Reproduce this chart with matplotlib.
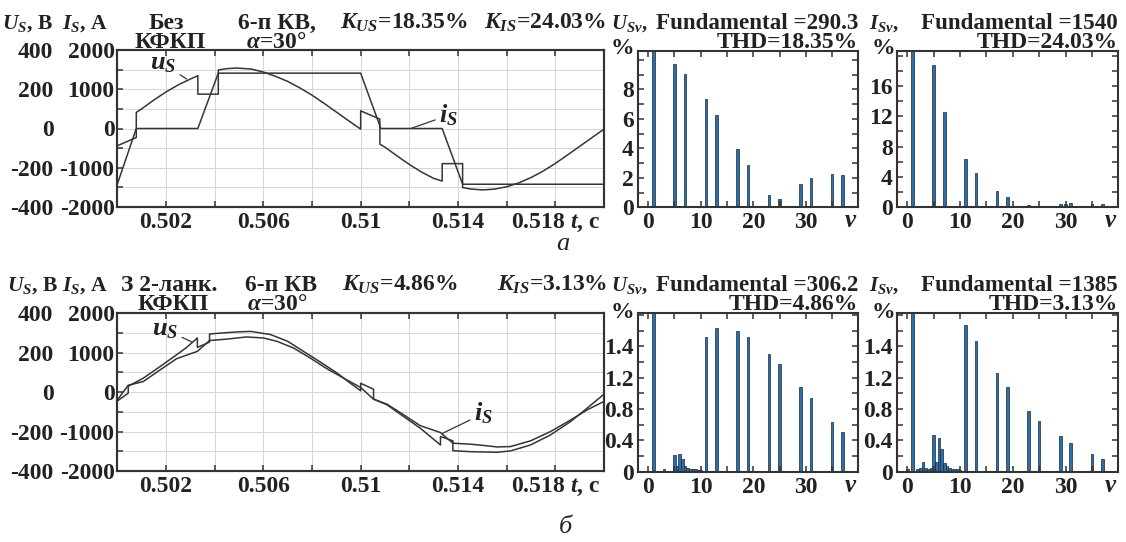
import matplotlib
matplotlib.use('Agg')
import matplotlib.pyplot as plt
from matplotlib.ticker import MultipleLocator

plt.rcParams.update({
    'font.family': ['Liberation Serif', 'DejaVu Serif'],
    'font.weight': 'bold',
    'font.size': 17,
    'mathtext.fontset': 'custom',
    'mathtext.rm': 'Liberation Serif:bold',
    'mathtext.it': 'Liberation Serif:italic:bold',
    'mathtext.bf': 'Liberation Serif:bold',
    'mathtext.default': 'it',
    'axes.linewidth': 1.5,
    'axes.edgecolor': '#333333',
    'xtick.color': '#333333',
    'ytick.color': '#333333',
    'xtick.labelcolor': '#222222',
    'ytick.labelcolor': '#222222',
    'text.color': '#222222',
})

# ---------------- data: time-domain waveforms ----------------
# (a) without filter: supply voltage u_s (V) and current i_s (A)
top_t_u = [0.5000, 0.50078, 0.50078, 0.5010, 0.5015, 0.5020, 0.5025, 0.5030, 0.50331, 0.50331,
           0.50415, 0.50415, 0.5045, 0.5049, 0.5055, 0.5060, 0.5065, 0.5070, 0.5075, 0.5080,
           0.5085, 0.5090, 0.5095, 0.5100, 0.5100, 0.51079, 0.51079, 0.5110, 0.5115, 0.5120,
           0.5125, 0.5130, 0.51335, 0.51335, 0.51419, 0.51419, 0.5145, 0.5150, 0.5155, 0.5160,
           0.5165, 0.5170, 0.5175, 0.5180, 0.5185, 0.5190, 0.5195, 0.5200]
top_u = [-88, -46, 82, 100, 145, 186, 222, 252, 269, 175,
         175, 298, 305, 308, 303, 288, 266, 240, 207, 170,
         128, 84, 40, -3, 90, 48, -80, -95, -140, -183,
         -222, -254, -268, -179, -179, -301, -308, -313, -309, -297,
         -277, -250, -217, -178, -135, -91, -47, -3]
top_t_i = [0.5000, 0.50078, 0.50331, 0.50415, 0.5100, 0.51083, 0.51335, 0.51419, 0.5200]
top_i = [-1420, 0, 0, 1410, 1410, 0, 0, -1420, -1420]

# (b) with 2-stage filter
bot_t_u = [0.5000, 0.50045, 0.50045, 0.50107, 0.50176, 0.50244, 0.50285, 0.50329, 0.50329, 0.50379,
           0.50379, 0.5045, 0.5050, 0.5055, 0.5063, 0.5070, 0.50765, 0.50834, 0.50903, 0.50957,
           0.5100, 0.5100, 0.51053, 0.51053, 0.51108, 0.51177, 0.51245, 0.51328, 0.51328, 0.51379,
           0.51379, 0.51451, 0.51561, 0.51616, 0.51698, 0.5178, 0.51863, 0.51931, 0.5200]
bot_u = [-45, -5, 30, 71, 130, 190, 227, 275, 227, 254,
         295, 302, 306, 308, 292, 258, 207, 153, 97, 46,
         7, 45, 15, -35, -64, -124, -183, -268, -225, -247,
         -297, -302, -305, -298, -268, -217, -149, -81, -10]
bot_t_i = [0.5000, 0.50045, 0.50107, 0.50176, 0.50244, 0.50329, 0.50379, 0.5045, 0.5053, 0.5060,
           0.50656, 0.50724, 0.50793, 0.50861, 0.5093, 0.5100, 0.51053, 0.51108, 0.51177, 0.51245,
           0.51328, 0.51379, 0.51451, 0.5151, 0.51561, 0.51616, 0.51698, 0.5178, 0.51863, 0.51931,
           0.5200]
bot_i = [-200, 175, 270, 565, 850, 1035, 1310, 1345, 1400, 1375,
         1290, 1120, 865, 595, 355, 120, -180, -305, -575, -850,
         -1025, -1295, -1320, -1355, -1390, -1380, -1235, -1000, -705, -450,
         -235]

# ---------------- data: harmonic spectra (% of fundamental) ----------------
uspec_a_nu = [1, 5, 7, 11, 13, 17, 19, 23, 25, 29, 31, 35, 37]
uspec_a = [100, 9.7, 9.04, 7.32, 6.24, 3.93, 2.85, 0.85, 0.54, 1.6, 1.97, 2.26, 2.21]
ispec_a_nu = [1, 5, 7, 11, 13, 17, 19, 23, 25, 29, 30, 31, 35, 37]
ispec_a = [100, 18.77, 12.53, 6.41, 4.56, 2.19, 1.4, 0.3, 0.15, 0.44, 0.4, 0.53, 0.44, 0.44]
uspec_b_nu = [1, 3, 4, 4.5, 5, 5.5, 6, 6.5, 7, 7.5, 8, 8.5, 9, 9.5, 10,
              11, 13, 17, 19, 23, 25, 29, 31, 35, 37]
uspec_b = [100, 0.03, 0.015, 0.015, 0.21, 0.07, 0.225, 0.16, 0.07, 0.05, 0.04, 0.03, 0.03, 0.02, 0.02,
           1.716, 1.83, 1.79, 1.716, 1.5, 1.37, 1.08, 0.935, 0.64, 0.5]
ispec_b_nu = [0, 1, 2, 2.5, 3, 3.5, 4, 4.5, 5, 5.5, 6, 6.5, 7, 7.5, 8, 8.5, 9, 9.5, 10,
              11, 13, 17, 19, 23, 25, 29, 31, 35, 37]
ispec_b = [0.03, 100, 0.03, 0.05, 0.13, 0.05, 0.04, 0.05, 0.47, 0.12, 0.43, 0.29, 0.11, 0.07, 0.05,
           0.04, 0.03, 0.03, 0.02, 1.87, 1.67, 1.26, 1.08, 0.77, 0.65, 0.45, 0.37, 0.22, 0.16]

# ---------------- tick labels ----------------
t_ticks = [0.500, 0.502, 0.504, 0.506, 0.508, 0.510, 0.512, 0.514, 0.516, 0.518, 0.520]
t_labels = ['', '0.502', '', '0.506', '', '0.51', '', '0.514', '', '0.518 $t$, c', '']
i_ticks = [-2000, -1500, -1000, -500, 0, 500, 1000, 1500, 2000]
i_labels = ['-2000', '', '-1000', '', '0', '', '1000', '', '2000']
u_ticks = [-400, -200, 0, 200, 400]
u_labels = ['-400', '-200', '0', '200', '400']
nu_ticks = [0, 5, 10, 15, 20, 25, 30, 35]
nu_labels = ['0', '', '10', '', '20', '', '30', '']
spec_a_u_ticks = [0, 2, 4, 6, 8]
spec_a_i_ticks = [0, 4, 8, 12, 16]
spec_b_ticks = [0, 0.4, 0.8, 1.2, 1.6]
spec_b_labels = ['0', '0.4', '0.8', '1.2', '1.4']

W, H = 1126, 542
fig = plt.figure(figsize=(W / 100, H / 100), dpi=100)
LINE = '#353535'
BAR_FACE = '#2c6ea6'
BAR_EDGE = '#14293d'


def rect(l, t, r, b):
    return [l / W, 1 - b / H, (r - l) / W, (b - t) / H]


def draw_time(r, tu, u, ti, i, ann_u, ann_i):
    ax = fig.add_axes(r)
    ax.set_xlim(0.5, 0.52)
    ax.set_ylim(-2000, 2000)
    ax.set_xticks(t_ticks)
    ax.set_xticklabels(t_labels)
    ax.set_yticks(i_ticks)
    ax.set_yticklabels(i_labels)
    ax.grid(True, color='#d6d6d6', lw=0.7)
    ax.set_axisbelow(True)
    ax.tick_params(direction='in', top=True, right=True, length=4.5, width=1.1)
    ax.tick_params(axis='x', pad=3.5)
    ax.tick_params(axis='y', pad=2)
    ax.plot(ti, i, color=LINE, lw=1.1)
    av = ax.twinx()
    av.set_ylim(-400, 400)
    av.plot(tu, u, color=LINE, lw=1.1)
    av.yaxis.tick_left()
    av.set_yticks(u_ticks)
    av.set_yticklabels(u_labels)
    av.tick_params(axis='y', length=0, pad=46)
    for (txt, xy, xyt) in (ann_u, ann_i):
        av.annotate(txt, xy=xy, xytext=xyt, fontsize=19, ha='center', va='center',
                    arrowprops=dict(arrowstyle='-', lw=0.9, color=LINE, shrinkA=1, shrinkB=0))
    return ax


def draw_spec(r, nu, vals, ytop, yticks, ylabels, yminor):
    ax = fig.add_axes(r)
    ax.bar(nu, vals, width=0.5, color=BAR_FACE, edgecolor=BAR_EDGE, lw=0.5)
    ax.set_xlim(-2, 40)
    ax.set_ylim(0, ytop)
    ax.set_xticks(nu_ticks)
    ax.set_xticklabels(nu_labels)
    ax.set_yticks(yticks)
    ax.set_yticklabels(ylabels)
    ax.yaxis.set_minor_locator(MultipleLocator(yminor))
    ax.tick_params(which='both', direction='in', top=True, right=True, length=4.5, width=1.1)
    ax.tick_params(axis='x', pad=3.5)
    ax.tick_params(axis='y', pad=3)
    ax.text(38.6, -0.085, r'$\nu$', transform=ax.get_xaxis_transform(), ha='center', va='center',
            fontsize=18)
    return ax


# time plots
draw_time(rect(117.3, 50, 604, 207), top_t_u, top_u, top_t_i, top_i,
          (r'$u_S$', (0.50285, 252), (0.50188, 330)),
          (r'$i_S$', (0.51206, 0), (0.51362, 68)))
draw_time(rect(117.3, 313.3, 604, 471), bot_t_u, bot_u, bot_t_i, bot_i,
          (r'$u_S$', (0.50306, 255), (0.50196, 318)),
          (r'$i_S$', (0.51333, -211), (0.51505, -108)))

# spectra
draw_spec(rect(637.7, 51, 858.3, 207.3), uspec_a_nu, uspec_a, 10.6, spec_a_u_ticks,
          [str(v) for v in spec_a_u_ticks], 1)
draw_spec(rect(896.7, 51, 1118.3, 207.3), ispec_a_nu, ispec_a, 20.6, spec_a_i_ticks,
          [str(v) for v in spec_a_i_ticks], 2)
draw_spec(rect(637.7, 313.3, 858.3, 471.7), uspec_b_nu, uspec_b, 2.02, spec_b_ticks,
          spec_b_labels, 0.2)
draw_spec(rect(896.7, 313.3, 1118.3, 471.7), ispec_b_nu, ispec_b, 2.02, spec_b_ticks,
          spec_b_labels, 0.2)


def put(x, y, s, ha='left', **kw):
    fig.text(x / W, 1 - y / H, s, ha=ha, va='baseline', **kw)


SMALL = 15.5
HEAD = 16.6
# header row (a)
put(2, 29, r'$U_S$, В', fontsize=SMALL)
put(62, 29, r'$I_S$, А', fontsize=SMALL)
put(166, 29, 'Без', ha='center')
put(170, 48, 'КФКП', ha='center')
put(277, 29, '6-п КВ,', ha='center')
put(276, 48, r'$\alpha$=30°', ha='center')
put(404, 29, r'$K_{US}$=18.35%', ha='center')
put(484, 29, r'$K_{IS}$=24.03%')
put(611, 29, r'$U_{S\nu}$,', fontsize=15)
put(858, 29, 'Fundamental =290.3', ha='right', fontsize=HEAD)
put(858, 48, 'THD=18.35%', ha='right')
put(622, 54, '%', ha='center')
put(869, 29, r'$I_{S\nu}$,', fontsize=15)
put(1118, 29, 'Fundamental =1540', ha='right', fontsize=HEAD)
put(1118, 48, 'THD=24.03%', ha='right')
put(883, 54, '%', ha='center')

# header row (b)
put(7, 291, r'$U_S$, В', fontsize=SMALL)
put(62, 291, r'$I_S$, А', fontsize=SMALL)
put(121, 291, 'З 2-ланк.')
put(173, 310, 'КФКП', ha='center')
put(281, 291, '6-п КВ', ha='center')
put(277, 310, r'$\alpha$=30°', ha='center')
put(400, 291, r'$K_{US}$=4.86%', ha='center')
put(497, 291, r'$K_{IS}$=3.13%')
put(611, 291, r'$U_{S\nu}$,', fontsize=15)
put(858, 291, 'Fundamental =306.2', ha='right', fontsize=HEAD)
put(858, 310, 'THD=4.86%', ha='right')
put(622, 318, '%', ha='center')
put(869, 291, r'$I_{S\nu}$,', fontsize=15)
put(1118, 291, 'Fundamental =1385', ha='right', fontsize=HEAD)
put(1118, 310, 'THD=3.13%', ha='right')
put(883, 318, '%', ha='center')

# panel letters
fig.text(563 / W, 1 - 244 / H, 'а', ha='center', va='center', fontsize=19,
         style='italic', weight='normal')
fig.text(565 / W, 1 - 527 / H, 'б', ha='center', va='center', fontsize=19,
         style='italic', weight='normal')

fig.savefig('out.png', dpi=100)
